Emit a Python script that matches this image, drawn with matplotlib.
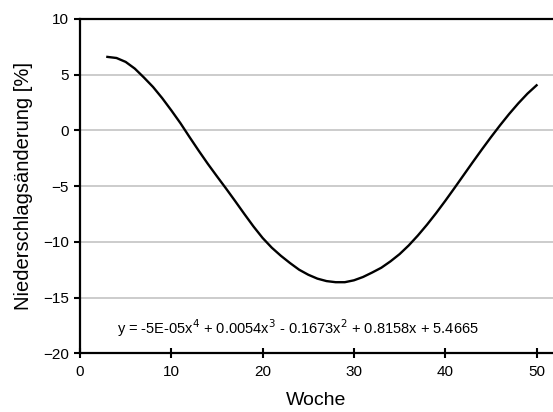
import numpy as np
import matplotlib
matplotlib.use('Agg')
import matplotlib.pyplot as plt

plt.rcParams['font.family'] = ['Liberation Sans', 'DejaVu Sans']

# Wochen und Niederschlagsänderung in Prozent
woche = list(range(3, 51))
aenderung = [6.6, 6.5, 6.15, 5.55, 4.75, 3.9, 2.9, 1.8, 0.65, -0.6,
             -1.82, -3.0, -4.12, -5.22, -6.35, -7.5, -8.62, -9.65, -10.52, -11.25,
             -11.9, -12.5, -12.95, -13.3, -13.52, -13.62, -13.62, -13.45, -13.15, -12.75,
             -12.32, -11.75, -11.1, -10.32, -9.43, -8.46, -7.42, -6.32, -5.18, -4.02,
             -2.86, -1.72, -0.61, 0.46, 1.48, 2.43, 3.3, 4.05]

gleichung = r'y = -5E-05x$^4$ + 0.0054x$^3$ - 0.1673x$^2$ + 0.8158x + 5.4665'

fig = plt.figure(figsize=(5.53, 4.12), dpi=100)
ax = fig.add_axes([80 / 553, 1 - 353.3 / 412, 473 / 553, (353.3 - 19) / 412])

# Gitterlinien
for g in [5, 0, -5, -10, -15]:
    ax.axhline(g, color='#c8c8c8', lw=1.3, zorder=1)

ax.plot(woche, aenderung, color='black', lw=1.7, zorder=3, solid_joinstyle='round')

ax.set_xlim(0, 51.8)
ax.set_ylim(-20, 10)
ax.set_xticks([0, 10, 20, 30, 40, 50])
ax.set_yticks([-20, -15, -10, -5, 0, 5, 10])

ax.spines['right'].set_visible(False)
for s in ['left', 'bottom', 'top']:
    ax.spines[s].set_linewidth(1.6)
    ax.spines[s].set_color('black')

ax.tick_params(axis='x', direction='inout', length=7, width=1.5, labelsize=11, pad=5)
ax.tick_params(axis='y', direction='out', length=4, width=1.5, labelsize=11, pad=4)

ax.set_xlabel('Woche', fontsize=14, labelpad=9)
ax.set_ylabel('Niederschlagsänderung [%]', fontsize=14.5, labelpad=7)

ax.text(4.1, -17.75, gleichung, fontsize=10.5, va='center', ha='left')

fig.savefig('out.png', dpi=100)
